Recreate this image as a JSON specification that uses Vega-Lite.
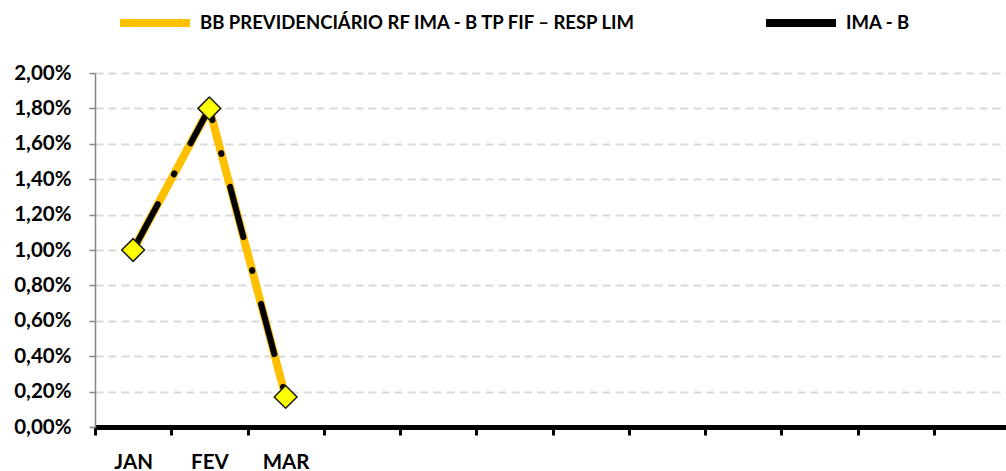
{
  "$schema": "https://vega.github.io/schema/vega-lite/v6.json",
  "width": 915,
  "height": 354,
  "autosize": {"type": "none"},
  "padding": {"left": 95, "top": 73, "right": 0, "bottom": 44},
  "background": "white",
  "config": {
    "locale": {"number": {"decimal": ",", "thousands": ".", "grouping": [3], "currency": ["R$", ""]}},
    "view": {"stroke": null},
    "font": "Lato"
  },
  "data": {
    "values": [
      {"mes": "JAN", "serie": "BB PREVIDENCIÁRIO RF IMA - B TP FIF – RESP LIM", "valor": 0.0100},
      {"mes": "FEV", "serie": "BB PREVIDENCIÁRIO RF IMA - B TP FIF – RESP LIM", "valor": 0.0180},
      {"mes": "MAR", "serie": "BB PREVIDENCIÁRIO RF IMA - B TP FIF – RESP LIM", "valor": 0.0017},
      {"mes": "JAN", "serie": "IMA - B", "valor": 0.0100},
      {"mes": "FEV", "serie": "IMA - B", "valor": 0.0180},
      {"mes": "MAR", "serie": "IMA - B", "valor": 0.0017}
    ]
  },
  "encoding": {
    "x": {
      "field": "mes", "type": "nominal", "sort": null,
      "scale": {"domain": ["JAN","FEV","MAR","ABR","MAI","JUN","JUL","AGO","SET","OUT","NOV","DEZ"], "paddingInner": 0, "paddingOuter": 0},
      "axis": {
        "title": null, "labelAngle": 0, "tickBand": "extent",
        "labelExpr": "indexof(['JAN','FEV','MAR'], datum.value) >= 0 ? datum.value : ''",
        "domainColor": "#000000", "domainWidth": 5,
        "tickColor": "#000000", "tickWidth": 3, "tickSize": 8,
        "labelFont": "Lato", "labelFontWeight": "bold", "labelFontSize": 20.5, "labelColor": "#000000",
        "labelPadding": 17, "grid": false
      }
    },
    "y": {
      "field": "valor", "type": "quantitative",
      "scale": {"domain": [0, 0.02], "nice": false},
      "axis": {
        "title": null, "format": ".2%",
        "values": [0, 0.002, 0.004, 0.006, 0.008, 0.01, 0.012, 0.014, 0.016, 0.018, 0.02],
        "domainColor": "#868686", "domainWidth": 1.5,
        "tickColor": "#868686", "tickSize": 6, "tickWidth": 1.5,
        "labelFont": "Lato", "labelFontWeight": "bold", "labelFontSize": 20.5, "labelColor": "#000000",
        "labelPadding": 18,
        "grid": true, "gridColor": "#d9d9d9", "gridWidth": 2, "gridDash": [8, 5]
      }
    }
  },
  "layer": [
    {
      "transform": [{"filter": "datum.serie === 'BB PREVIDENCIÁRIO RF IMA - B TP FIF – RESP LIM'"}],
      "mark": {"type": "line", "strokeWidth": 8},
      "encoding": {
        "color": {
          "field": "serie", "type": "nominal",
          "scale": {"domain": ["BB PREVIDENCIÁRIO RF IMA - B TP FIF – RESP LIM", "IMA - B"], "range": ["#FFC000", "#000000"]},
          "legend": {
            "title": null, "orient": "none", "direction": "horizontal",
            "legendX": 21, "legendY": -89,
            "symbolType": "stroke", "symbolStrokeWidth": 8, "symbolSize": 4900,
            "labelFont": "Lato", "labelFontWeight": "bold", "labelFontSize": 18.5, "labelColor": "#000000",
            "labelOffset": 6, "columnPadding": 112, "padding": 0, "labelLimit": 700
          }
        }
      }
    },
    {
      "transform": [{"filter": "datum.serie === 'IMA - B'"}],
      "mark": {"type": "line", "strokeWidth": 6, "strokeDash": [52, 34, 1, 34], "strokeCap": "round"},
      "encoding": {
        "color": {"field": "serie", "type": "nominal"}
      }
    },
    {
      "transform": [{"filter": "datum.serie === 'IMA - B'"}],
      "mark": {"type": "point", "shape": "diamond", "filled": true, "fill": "#FFFF00", "stroke": "#1a1a1a", "strokeWidth": 1.5, "size": 520, "opacity": 1},
      "encoding": {}
    }
  ]
}
